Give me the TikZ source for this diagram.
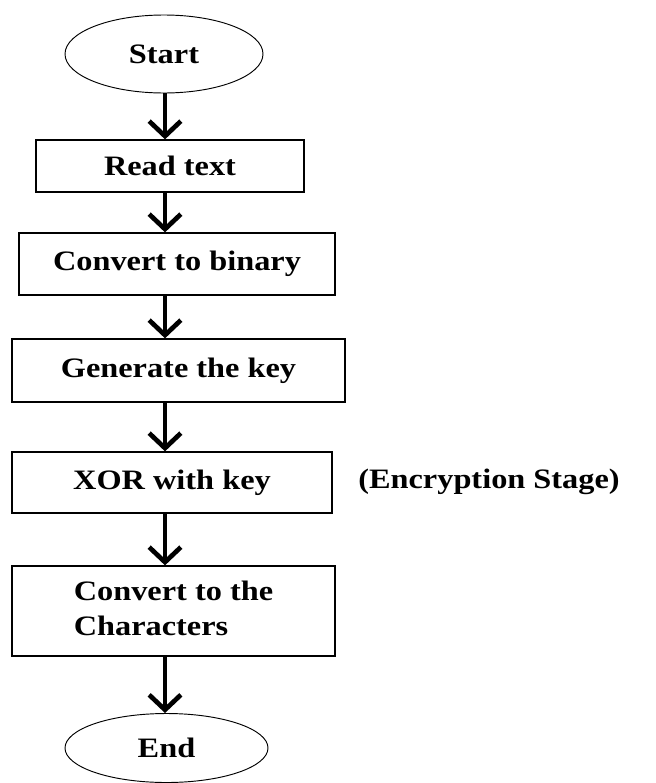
\documentclass[tikz,border=0pt]{standalone}
\usepackage{fontspec}
\setmainfont{Liberation Serif}
\usetikzlibrary{arrows.meta,shapes.geometric}

\newcommand{\lbl}[1]{\scalebox{1.15}[1]{#1}}

\begin{document}
\begin{tikzpicture}
  [x=0.03cm,y=-0.03cm,
   every node/.style={font=\fontsize{24pt}{30pt}\selectfont\bfseries,inner sep=0pt},
   stepbox/.style={draw,line width=1.1pt,rectangle},
   term/.style={draw,line width=0.8pt,ellipse},
   flow/.style={line width=4pt,-{Straight Barb[length=0.45cm,width=0.95cm]}}]
  \useasboundingbox (0,0) rectangle (656,783);

  \node[term,minimum width=198*0.03cm,minimum height=78*0.03cm] (start) at (164,54) {\lbl{Start}};
  \node[stepbox,minimum width=268*0.03cm,minimum height=52*0.03cm] (read) at (170,166) {\lbl{Read text}};
  \node[stepbox,minimum width=316*0.03cm,minimum height=62*0.03cm] (binary) at (177,264) {\lbl{Convert to binary}};
  \node[stepbox,minimum width=333*0.03cm,minimum height=63*0.03cm] (genkey) at (178.5,370.5) {\lbl{Generate the key}};
  \node[stepbox,minimum width=320*0.03cm,minimum height=61*0.03cm] (xor) at (172,482.5) {\lbl{XOR with key}};
  \node[stepbox,minimum width=323*0.03cm,minimum height=90*0.03cm] (chars) at (173.5,611)
    {\lbl{\begin{tabular}{@{}l@{}}Convert to the\\Characters\end{tabular}}};
  \node[term,minimum width=203*0.03cm,minimum height=69*0.03cm] (end) at (166.5,748) {\lbl{End}};

  \node (stage) at (489,482) {\lbl{(Encryption Stage)}};

  \coordinate (axis) at (165,0);

  \draw[flow] (axis |- start.south) -- (axis |- read.north);
  \draw[flow] (axis |- read.south) -- (axis |- binary.north);
  \draw[flow] (axis |- binary.south) -- (axis |- genkey.north);
  \draw[flow] (axis |- genkey.south) -- (axis |- xor.north);
  \draw[flow] (axis |- xor.south) -- (axis |- chars.north);
  \draw[flow] (axis |- chars.south) -- (axis |- end.north);
\end{tikzpicture}
\end{document}
